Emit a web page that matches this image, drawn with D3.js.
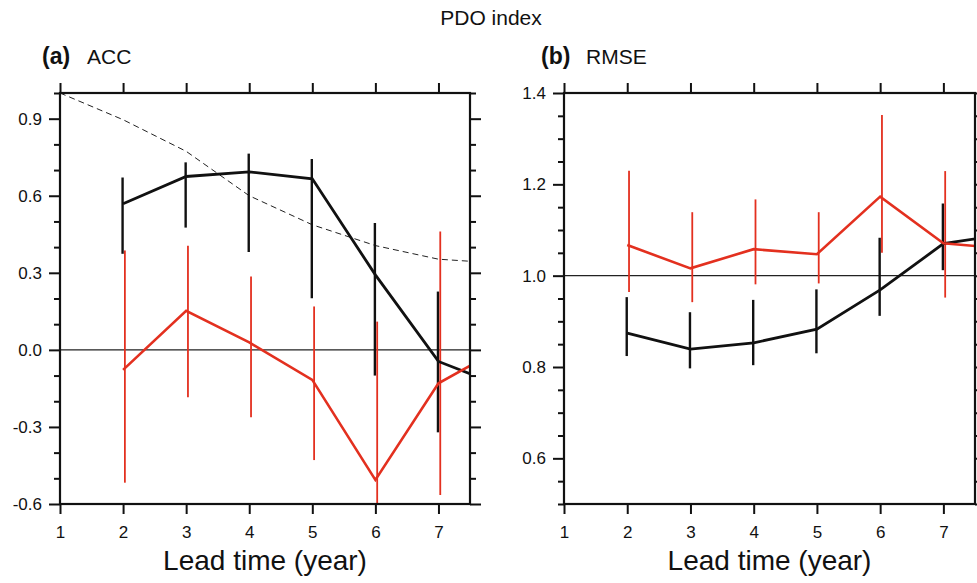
<!DOCTYPE html>
<html><head><meta charset="utf-8">
<script src="https://cdn.jsdelivr.net/npm/d3@7"></script>
<style>
body{margin:0;background:#fff}
svg{display:block}
text{font-family:"Liberation Sans",Arial,Helvetica,sans-serif;fill:#111}
</style>
</head><body>
<svg id="c" width="977" height="583"></svg>
<script>
// ---------- data ----------
const lineYears = [2, 3, 4, 5, 6, 7, 8];
const barYears  = [2, 3, 4, 5, 6, 7];
const xTicks = [1, 2, 3, 4, 5, 6, 7];

// (a) ACC
const accBlack   = [0.569, 0.675, 0.693, 0.666, 0.292, -0.045, -0.140];
const accBlackLo = [0.374, 0.476, 0.381, 0.201, -0.100, -0.321];
const accBlackHi = [0.671, 0.730, 0.764, 0.743, 0.494, 0.227];
const accRed     = [-0.078, 0.152, 0.029, -0.117, -0.506, -0.130, 0.006];
const accRedLo   = [-0.517, -0.184, -0.262, -0.429, -0.650, -0.565];
const accRedHi   = [0.387, 0.405, 0.286, 0.169, 0.110, 0.461];
const accDashYears = [1, 2, 3, 4, 5, 6, 7, 8];
const accDash    = [1.0, 0.896, 0.773, 0.600, 0.487, 0.406, 0.353, 0.337];
const accMajor = [-0.6, -0.3, 0.0, 0.3, 0.6, 0.9];
const accMinor = [-0.5, -0.4, -0.2, -0.1, 0.1, 0.2, 0.4, 0.5, 0.7, 0.8, 1.0];

// (b) RMSE
const rmseBlack   = [0.874, 0.839, 0.853, 0.883, 0.969, 1.070, 1.091];
const rmseBlackLo = [0.824, 0.797, 0.804, 0.830, 0.912, 1.012];
const rmseBlackHi = [0.953, 0.920, 0.947, 0.970, 1.083, 1.158];
const rmseRed     = [1.067, 1.016, 1.058, 1.047, 1.173, 1.071, 1.059];
const rmseRedLo   = [0.964, 0.942, 0.981, 0.983, 1.050, 0.952];
const rmseRedHi   = [1.230, 1.139, 1.167, 1.139, 1.352, 1.229];
const rmseMajor = [0.6, 0.8, 1.0, 1.2, 1.4];
const rmseMinor = [0.5, 0.55, 0.65, 0.7, 0.75, 0.85, 0.9, 0.95, 1.05, 1.1, 1.15, 1.25, 1.3, 1.35];

const RED = "#e3301f", BLACK = "#111";
const svg = d3.select("#c");

svg.append("text").attr("x", 491).attr("y", 25).attr("text-anchor", "middle")
  .attr("font-size", 21).text("PDO index");

function panel(o) {
  const x = d3.scaleLinear().domain([1, 7.5]).range([o.x0, o.x1]);
  const y = d3.scaleLinear().domain(o.yDom).range([504, 93]);
  const g = svg.append("g");
  const id = "clip" + o.key;
  svg.append("defs").append("clipPath").attr("id", id).append("rect")
    .attr("x", o.x0).attr("y", 93).attr("width", o.x1 - o.x0).attr("height", 411);
  const pg = g.append("g").attr("clip-path", `url(#${id})`);

  // reference line
  pg.append("line").attr("x1", o.x0).attr("x2", o.x1)
    .attr("y1", y(o.ref)).attr("y2", y(o.ref))
    .attr("stroke", "#222").attr("stroke-width", 1.1);

  if (o.dash) {
    pg.append("path").datum(o.dashYears.map((d, i) => [d, o.dash[i]]))
      .attr("fill", "none").attr("stroke", "#222").attr("stroke-width", 1)
      .attr("stroke-dasharray", "6,4")
      .attr("d", d3.line().x(d => x(d[0])).y(d => y(d[1])));
  }

  const line = d3.line().x(d => x(d[0])).y(d => y(d[1]));
  pg.selectAll(null).data(barYears).enter().append("line")
    .attr("x1", d => x(d) - 0.5).attr("x2", d => x(d) - 0.5)
    .attr("y1", (d, i) => y(o.bLo[i])).attr("y2", (d, i) => y(o.bHi[i]))
    .attr("stroke", BLACK).attr("stroke-width", 2.4);
  pg.selectAll(null).data(barYears).enter().append("line")
    .attr("x1", d => x(d) + 1.8).attr("x2", d => x(d) + 1.8)
    .attr("y1", (d, i) => y(o.rLo[i])).attr("y2", (d, i) => y(o.rHi[i]))
    .attr("stroke", RED).attr("stroke-width", 1.8);
  pg.append("path").datum(lineYears.map((d, i) => [d, o.black[i]]))
    .attr("fill", "none").attr("stroke", BLACK).attr("stroke-width", 2.8)
    .attr("d", line);
  pg.append("path").datum(lineYears.map((d, i) => [d, o.red[i]]))
    .attr("fill", "none").attr("stroke", RED).attr("stroke-width", 2.6)
    .attr("d", line);

  const styleAx = s => {
    s.select(".domain").remove();
    s.selectAll(".tick line").attr("stroke", "#111").attr("stroke-width", 2);
    s.selectAll(".tick text").attr("font-size", 17).attr("fill", "#111")
      .style("font-family", '"Liberation Sans",Arial,sans-serif');
  };
  g.append("g").attr("transform", `translate(${o.x0},0)`)
    .call(d3.axisLeft(y).tickValues(o.major).tickSize(11).tickPadding(7)
      .tickFormat(d => d.toFixed(1)))
    .call(styleAx);
  g.append("g").attr("transform", `translate(${o.x0},0)`)
    .call(d3.axisLeft(y).tickValues(o.minor).tickSize(6).tickFormat(""))
    .call(styleAx);
  g.append("g").attr("transform", `translate(${o.x1},0)`)
    .call(d3.axisRight(y).tickValues(o.major).tickSize(11).tickFormat(""))
    .call(styleAx);
  g.append("g").attr("transform", `translate(${o.x1},0)`)
    .call(d3.axisRight(y).tickValues(o.minor).tickSize(6).tickFormat(""))
    .call(styleAx);
  g.append("g").attr("transform", `translate(0,504)`)
    .call(d3.axisBottom(x).tickValues(xTicks).tickSize(10).tickPadding(12)
      .tickFormat(d => String(d)))
    .call(styleAx);
  g.append("g").attr("transform", `translate(0,93)`)
    .call(d3.axisTop(x).tickValues(xTicks).tickSize(10).tickFormat(""))
    .call(styleAx);

  g.append("rect").attr("x", o.x0).attr("y", 93).attr("width", o.x1 - o.x0)
    .attr("height", 411).attr("fill", "none").attr("stroke", "#111").attr("stroke-width", 2.2);

  g.append("text").attr("x", (o.x0 + o.x1) / 2).attr("y", 570)
    .attr("text-anchor", "middle").attr("font-size", 28).text("Lead time (year)");
  g.append("text").attr("x", o.labX).attr("y", 64).attr("font-size", 23)
    .attr("font-weight", "bold").text(o.label);
  g.append("text").attr("x", o.labX + 45).attr("y", 64).attr("font-size", 21)
    .text(o.title);
}

panel({key: "a", x0: 60, x1: 470, yDom: [-0.6, 1.0], ref: 0,
  major: accMajor, minor: accMinor,
  black: accBlack, bLo: accBlackLo, bHi: accBlackHi,
  red: accRed, rLo: accRedLo, rHi: accRedHi,
  dash: accDash, dashYears: accDashYears,
  label: "(a)", title: "ACC", labX: 42});

panel({key: "b", x0: 564, x1: 975, yDom: [0.5, 1.4], ref: 1.0,
  major: rmseMajor, minor: rmseMinor,
  black: rmseBlack, bLo: rmseBlackLo, bHi: rmseBlackHi,
  red: rmseRed, rLo: rmseRedLo, rHi: rmseRedHi,
  label: "(b)", title: "RMSE", labX: 541});
</script>
</body></html>
